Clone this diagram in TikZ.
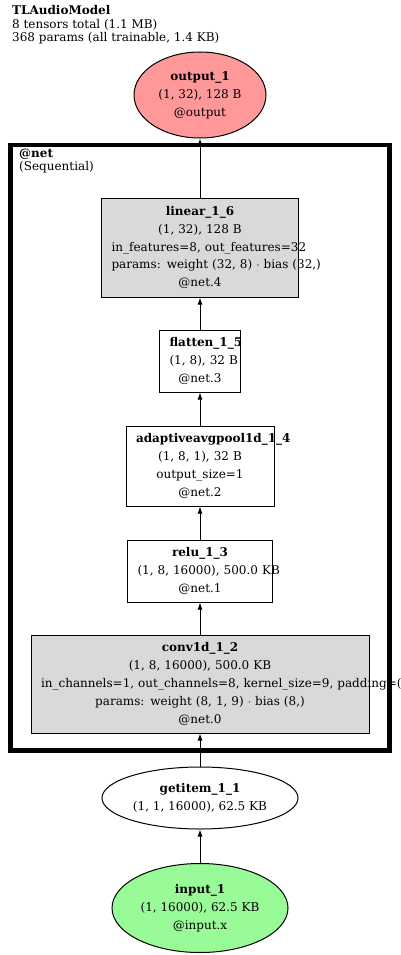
\documentclass[tikz,border=0pt]{standalone}
\usepackage{fontspec}
\setmainfont{DejaVu Serif}
\usetikzlibrary{shapes.geometric,arrows.meta}

\definecolor{outred}{HTML}{FF9999}
\definecolor{ingreen}{HTML}{98FB98}
\definecolor{layergray}{HTML}{D9D9D9}

\tikzset{
  layer/.style={rectangle, draw, line width=1pt, inner xsep=10pt, inner ysep=0pt, align=center, font=\fontsize{12}{17.8}\selectfont},
  tensor/.style={ellipse, draw, line width=1pt, inner sep=0pt, align=center, font=\fontsize{12}{17.8}\selectfont},
  flow/.style={-{Latex[length=7pt,width=5pt]}, line width=1pt}
}

\begin{document}
\begin{tikzpicture}[x=1pt, y=-1pt]
  \useasboundingbox (0,0) rectangle (400,955);
  \node (title) [anchor=north west, align=left, inner sep=0pt, font=\fontsize{12}{13.3}\selectfont] at (12,5.5) {\textbf{TLAudioModel}\\8 tensors total (1.1 MB)\\368 params (all trainable, 1.4 KB)};
  \node (net) [rectangle, draw, line width=4.5pt, minimum width=379pt, minimum height=605.5pt] at (200,447.75) {};
  \node (netlabel) [anchor=north west, align=left, inner sep=0pt, font=\fontsize{12}{13.3}\selectfont] at (19,148.5) {\textbf{@net}\\(Sequential)};
  \node (input) [tensor, fill=ingreen, minimum width=176pt, minimum height=89pt] at (200,908) {\textbf{input\_1}\\(1, 16000), 62.5 KB\\@input.x};
  \node (getitem) [tensor, minimum width=196pt, minimum height=62pt, above of=input, node distance=110pt] {\textbf{getitem\_1\_1}\\(1, 1, 16000), 62.5 KB};
  \node (conv) [layer, fill=layergray, text width=318pt, minimum height=98pt, above of=getitem, node distance=114pt] {\textbf{conv1d\_1\_2}\\\mbox{(1, 8, 16000), 500.0 KB}\\\mbox{in\_channels=1, out\_channels=8, kernel\_size=9, padding=(}\\\mbox{params: weight (8, 1, 9) $\cdot$ bias (8,)}\\@net.0};
  \node (relu) [layer, text width=125pt, minimum height=62pt, above of=conv, node distance=113pt] {\textbf{relu\_1\_3}\\\mbox{(1, 8, 16000), 500.0 KB}\\@net.1};
  \node (pool) [layer, text width=128pt, minimum height=80pt, above of=relu, node distance=105pt] {\mbox{\textbf{adaptiveavgpool1d\_1\_4}}\\\mbox{(1, 8, 1), 32 B}\\\mbox{output\_size=1}\\@net.2};
  \node (flatten) [layer, text width=61pt, minimum height=62pt, above of=pool, node distance=105pt] {\mbox{\textbf{flatten\_1\_5}}\\\mbox{(1, 8), 32 B}\\@net.3};
  \node (linear) [layer, fill=layergray, text width=177pt, minimum height=99pt, above of=flatten, node distance=113.5pt] {\textbf{linear\_1\_6}\\\mbox{(1, 32), 128 B}\\\mbox{in\_features=8, out\_features=32}\\\mbox{params: weight (32, 8) $\cdot$ bias (32,)}\\@net.4};
  \node (output) [tensor, fill=outred, minimum width=132pt, minimum height=86pt, above of=linear, node distance=152.5pt] {\textbf{output\_1}\\(1, 32), 128 B\\@output};
  \draw [flow] (input) -- (getitem);
  \draw [flow] (getitem) -- (conv);
  \draw [flow] (conv) -- (relu);
  \draw [flow] (relu) -- (pool);
  \draw [flow] (pool) -- (flatten);
  \draw [flow] (flatten) -- (linear);
  \draw [flow] (linear) -- (output);
\end{tikzpicture}
\end{document}
